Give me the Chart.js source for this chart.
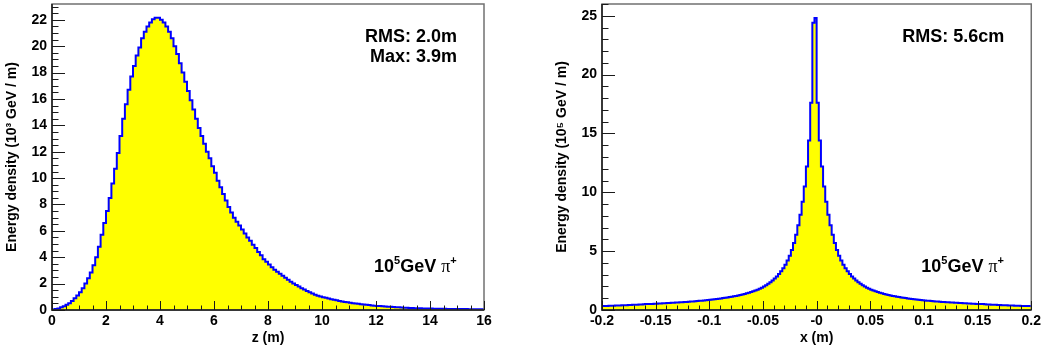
<!DOCTYPE html>
<html>
<head>
<meta charset="utf-8">
<script src="https://cdn.jsdelivr.net/npm/chart.js@4/dist/chart.umd.min.js"></script>
<style>
  body { margin: 0; background: #fff; }
  canvas { position: absolute; top: 0; }
</style>
</head>
<body>
<canvas id="zChart" width="522" height="354" style="left:0"></canvas>
<canvas id="xChart" width="522" height="354" style="left:522px"></canvas>
<script>
// longitudinal profile, 0.1 m bins from z = 0 to 16 m (10^3 GeV / m)
const zStart = 0, zBin = 0.1;
const zValues = [
  0.02, 0.04, 0.07, 0.12, 0.2, 0.29, 0.4, 0.52, 0.68, 0.9,
  1.1, 1.35, 1.65, 2.0, 2.4, 2.85, 3.4, 4.0, 4.8, 5.7,
  6.6, 7.5, 8.5, 9.6, 10.7, 11.9, 13.2, 14.5, 15.6, 16.7,
  17.7, 18.5, 19.3, 19.9, 20.6, 21.1, 21.5, 21.8, 22.05, 22.15,
  22.15, 22.0, 21.8, 21.5, 21.1, 20.6, 20.0, 19.4, 18.7, 18.0,
  17.3, 16.6, 15.9, 15.2, 14.5, 13.8, 13.2, 12.6, 12.0, 11.5,
  10.9, 10.4, 9.8, 9.3, 8.8, 8.3, 7.8, 7.4, 7.0, 6.7,
  6.4, 6.1, 5.8, 5.5, 5.25, 4.95, 4.7, 4.4, 4.15, 3.85,
  3.65, 3.45, 3.25, 3.05, 2.9, 2.75, 2.6, 2.45, 2.3, 2.15,
  2.0, 1.9, 1.78, 1.65, 1.55, 1.45, 1.35, 1.25, 1.16, 1.08,
  1.02, 0.97, 0.92, 0.87, 0.82, 0.78, 0.73, 0.69, 0.65, 0.61,
  0.58, 0.55, 0.52, 0.5, 0.47, 0.44, 0.42, 0.39, 0.37, 0.35,
  0.33, 0.31, 0.3, 0.28, 0.27, 0.25, 0.24, 0.22, 0.21, 0.2,
  0.19, 0.18, 0.17, 0.16, 0.15, 0.14, 0.14, 0.13, 0.12, 0.12,
  0.11, 0.11, 0.1, 0.1, 0.09, 0.09, 0.09, 0.08, 0.08, 0.08,
  0.08, 0.07, 0.07, 0.07, 0.07, 0.06, 0.06, 0.06, 0.06, 0.06
];
const zTicks = [0, 2, 4, 6, 8, 10, 12, 14, 16];
const zTickLabels = ['0', '2', '4', '6', '8', '10', '12', '14', '16'];
const zYTicks = [0, 2, 4, 6, 8, 10, 12, 14, 16, 18, 20, 22];

// lateral profile, 2 mm bins from x = -0.2 to 0.2 m (10^5 GeV / m)
const xStart = -0.2, xBin = 0.002;
const xNegValues = [
  0.33, 0.34, 0.34, 0.35, 0.36, 0.36, 0.37, 0.38, 0.38, 0.39,
  0.40, 0.41, 0.41, 0.42, 0.43, 0.44, 0.44, 0.45, 0.46, 0.47,
  0.49, 0.5, 0.51, 0.52, 0.52, 0.53, 0.54, 0.55, 0.56, 0.57,
  0.58, 0.59, 0.6, 0.61, 0.62, 0.63, 0.64, 0.65, 0.66, 0.68,
  0.69, 0.7, 0.72, 0.73, 0.75, 0.76, 0.78, 0.79, 0.81, 0.83,
  0.85, 0.87, 0.89, 0.91, 0.93, 0.96, 0.98, 1.01, 1.04, 1.07,
  1.1, 1.13, 1.16, 1.2, 1.24, 1.28, 1.32, 1.37, 1.42, 1.47,
  1.53, 1.59, 1.66, 1.73, 1.81, 1.9, 2.0, 2.1, 2.22, 2.35,
  2.5, 2.67, 2.85, 3.05, 3.3, 3.55, 3.85, 4.2, 4.6, 5.1,
  5.7, 6.4, 7.2, 8.1, 9.2, 10.5, 12.2, 14.4, 17.6, 24.4
];
const xPosValues = [
  24.8, 17.6, 14.4, 12.2, 10.5, 9.2, 8.1, 7.2, 6.4, 5.7,
  5.1, 4.6, 4.2, 3.85, 3.55, 3.3, 3.05, 2.85, 2.67, 2.5,
  2.35, 2.22, 2.1, 2.0, 1.9, 1.81, 1.73, 1.66, 1.59, 1.53,
  1.47, 1.42, 1.37, 1.32, 1.28, 1.24, 1.2, 1.16, 1.13, 1.1,
  1.07, 1.04, 1.01, 0.98, 0.96, 0.93, 0.91, 0.89, 0.87, 0.85,
  0.83, 0.81, 0.79, 0.78, 0.76, 0.75, 0.73, 0.72, 0.7, 0.69,
  0.68, 0.66, 0.65, 0.64, 0.63, 0.62, 0.61, 0.6, 0.59, 0.58,
  0.57, 0.56, 0.55, 0.54, 0.53, 0.52, 0.52, 0.51, 0.5, 0.49,
  0.47, 0.46, 0.45, 0.44, 0.44, 0.43, 0.42, 0.41, 0.41, 0.40,
  0.39, 0.38, 0.38, 0.37, 0.36, 0.36, 0.35, 0.34, 0.34, 0.33
];
const xValues = xNegValues.concat(xPosValues);
const xTicks = [-0.2, -0.15, -0.1, -0.05, 0, 0.05, 0.1, 0.15, 0.2];
const xTickLabels = ['-0.2', '-0.15', '-0.1', '-0.05', '-0', '0.05', '0.1', '0.15', '0.2'];
const xYTicks = [0, 5, 10, 15, 20, 25];

const zStats = ['RMS: 2.0m', 'Max: 3.9m'];
const xStats = ['RMS: 5.6cm'];
const beamLabel = ['10', '5', 'GeV ', 'π', '+'];

const FONT = '"Liberation Sans", Arial, Helvetica, sans-serif';
Chart.defaults.font.family = FONT;
Chart.defaults.font.size = 14;
Chart.defaults.font.weight = 'bold';
Chart.defaults.color = '#000';

// ROOT-like frame, inside ticks and the text boxes
const rootFrame = {
  id: 'rootFrame',
  afterDatasetsDraw(chart, args, o) {
    const { ctx, chartArea: a, scales } = chart;
    ctx.save();
    ctx.strokeStyle = '#707070';
    ctx.lineWidth = 1.5;
    ctx.strokeRect(a.left, a.top, a.right - a.left, a.bottom - a.top);
    ctx.strokeStyle = '#1a1a1a';
    ctx.beginPath();
    ctx.moveTo(a.left, a.top); ctx.lineTo(a.left, a.bottom); ctx.lineTo(a.right, a.bottom);
    ctx.stroke();

    ctx.lineWidth = 1;
    ctx.beginPath();
    const near = (v, m) => Math.abs(v / m - Math.round(v / m)) < 1e-6;
    const xs = scales.x, ys = scales.y;
    let k0 = Math.ceil(xs.min / o.xMinor - 1e-6);
    for (let k = k0; k * o.xMinor <= xs.max + 1e-9; k++) {
      const v = k * o.xMinor;
      const px = Math.round(xs.getPixelForValue(v)) + 0.5;
      const len = near(v, o.xMajor) ? 9 : 4.5;
      ctx.moveTo(px, a.bottom); ctx.lineTo(px, a.bottom - len);
    }
    k0 = Math.ceil(ys.min / o.yMinor - 1e-6);
    for (let k = k0; k * o.yMinor <= ys.max + 1e-9; k++) {
      const v = k * o.yMinor;
      const py = Math.round(ys.getPixelForValue(v)) + 0.5;
      const len = near(v, o.yMajor) ? 13 : 6.5;
      ctx.moveTo(a.left, py); ctx.lineTo(a.left + len, py);
    }
    ctx.stroke();

    ctx.fillStyle = '#000';
    ctx.textBaseline = 'alphabetic';
    ctx.textAlign = 'right';
    ctx.font = 'bold 18px ' + FONT;
    o.stats.forEach((s, i) => ctx.fillText(s, a.right - 27, a.top + 38 + i * 20));

    ctx.textAlign = 'left';
    const big = 'bold 18px ' + FONT, small = 'bold 11px ' + FONT;
    const parts = [[big, 0], [small, -8], [big, 0], ['18px "Liberation Serif", serif', 0], [small, -8]];
    let x = a.right - 110;
    const y = a.top + 268;
    o.beam.forEach((t, i) => {
      ctx.font = parts[i][0];
      ctx.fillText(t, x, y + parts[i][1]);
      x += ctx.measureText(t).width;
    });
    ctx.restore();
  }
};

function histChart(id, values, start, bin, cfg) {
  const pts = values.map((v, i) => ({ x: start + i * bin, y: v }));
  pts.push({ x: start + values.length * bin, y: values[values.length - 1] });
  return new Chart(document.getElementById(id), {
    type: 'line',
    data: {
      datasets: [{
        data: pts,
        stepped: 'after',
        fill: 'origin',
        backgroundColor: '#ffff00',
        borderColor: '#0000ff',
        borderWidth: 2,
        pointRadius: 0
      }]
    },
    options: {
      responsive: false,
      animation: false,
      layout: { padding: { left: cfg.padLeft, right: cfg.padRight, top: 4, bottom: 0 } },
      plugins: {
        legend: { display: false },
        tooltip: { enabled: false },
        rootFrame: { stats: cfg.stats, beam: beamLabel, xMajor: cfg.xMajor, xMinor: cfg.xMinor, yMajor: cfg.yMajor, yMinor: cfg.yMinor }
      },
      scales: {
        x: {
          type: 'linear',
          min: cfg.xMin, max: cfg.xMax,
          grid: { display: false, drawTicks: false },
          border: { display: false },
          ticks: { padding: 3, maxRotation: 0, autoSkip: false, callback: (v, i) => cfg.xLabels[i] },
          afterBuildTicks: s => { s.ticks = cfg.xTicks.map(v => ({ value: v })); },
          title: { display: true, text: cfg.xTitle, padding: { top: 0, bottom: 7 } },
          afterFit: s => { s.height = 44; }
        },
        y: {
          min: 0, max: cfg.yMax,
          grid: { display: false, drawTicks: false },
          border: { display: false },
          ticks: { padding: 5, autoSkip: false, callback: v => String(v) },
          afterBuildTicks: s => { s.ticks = cfg.yTicks.map(v => ({ value: v })); },
          title: { display: true, text: cfg.yTitle, padding: { top: 4, bottom: 0 } },
          afterFit: s => { s.width = 52; s.paddingTop = 0; s.paddingBottom = 0; }
        }
      }
    },
    plugins: [rootFrame]
  });
}

histChart('zChart', zValues, zStart, zBin, {
  padLeft: 0, padRight: 38,
  xMin: 0, xMax: 16, xMajor: 2, xMinor: 0.5,
  yMax: 23.2, yMajor: 2, yMinor: 0.5,
  xTicks: zTicks, xLabels: zTickLabels, yTicks: zYTicks,
  xTitle: 'z (m)', yTitle: 'Energy density (10³ GeV / m)',
  stats: zStats
});

histChart('xChart', xValues, xStart, xBin, {
  padLeft: 28, padRight: 11,
  xMin: -0.2, xMax: 0.2, xMajor: 0.05, xMinor: 0.01,
  yMax: 26, yMajor: 5, yMinor: 1,
  xTicks: xTicks, xLabels: xTickLabels, yTicks: xYTicks,
  xTitle: 'x (m)', yTitle: 'Energy density (10⁵ GeV / m)',
  stats: xStats
});
</script>
</body>
</html>
